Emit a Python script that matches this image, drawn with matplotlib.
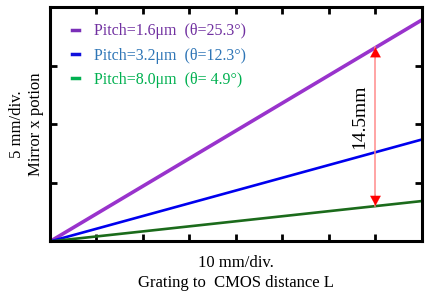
import matplotlib
matplotlib.use("Agg")
import matplotlib.pyplot as plt
from matplotlib.lines import Line2D

plt.rcParams['font.family'] = ['Liberation Serif', 'DejaVu Serif']

# grating to CMOS distance L (mm) and mirror x position (mm)
L = [0, 80]
pos_16 = [0, 18.9]
pos_32 = [0, 8.7]
pos_80 = [0, 3.45]
labels = ['Pitch=1.6\u03bcm  (\u03b8=25.3\u00b0)',
          'Pitch=3.2\u03bcm  (\u03b8=12.3\u00b0)',
          'Pitch=8.0\u03bcm  (\u03b8= 4.9\u00b0)']
arrow_x = 70
arrow_top = 16.55
arrow_bottom = 3.05
arrow_text = '14.5mm'

fig = plt.figure(figsize=(4.32, 3.04), dpi=100)
ax = fig.add_axes([0.1157, 0.2056, 0.8611, 0.7714])

ax.plot(L, pos_16, color='#9933CC', lw=2.6, solid_capstyle='butt')
ax.plot(L, pos_32, color='#0000EE', lw=1.9, solid_capstyle='butt')
ax.plot(L, pos_80, color='#1B6B1B', lw=1.9, solid_capstyle='butt')

# double arrow showing the difference
ax.plot([arrow_x, arrow_x], [arrow_top, arrow_bottom], color='#FF8C8C', lw=1.1)
head = dict(arrowstyle='-|>,head_length=0.7,head_width=0.38',
            color='red', lw=0.1, shrinkA=0, shrinkB=0)
ax.annotate('', xy=(arrow_x, arrow_top), xytext=(arrow_x, arrow_top - 1.0),
            arrowprops=head)
ax.annotate('', xy=(arrow_x, arrow_bottom), xytext=(arrow_x, arrow_bottom + 1.0),
            arrowprops=head)
ax.text(arrow_x - 3.4, 10.6, arrow_text, rotation=90, fontsize=14,
        ha='center', va='center')

handles = [Line2D([], [], color='#7A2FB8', lw=2.5),
           Line2D([], [], color='#1010DD', lw=2.5),
           Line2D([], [], color='#00B050', lw=2.5)]
leg = ax.legend(handles, labels, loc='upper left', bbox_to_anchor=(0.06, 0.93),
                frameon=False, fontsize=11.5, handlelength=0.45, handletextpad=0.9,
                labelspacing=0.52, borderpad=0, borderaxespad=0,
                labelcolor=['#7030A0', '#2E75B6', '#00B050'])

ax.set_xlim(0, 80)
ax.set_ylim(0, 20)
ax.set_xticks([10, 20, 30, 40, 50, 60, 70])
ax.set_yticks([5, 10, 15])
ax.tick_params(direction='in', length=5, width=2, top=True, right=True,
               labelbottom=False, labelleft=False)
for s in ax.spines.values():
    s.set_linewidth(2.2)

ax.set_xlabel('10 mm/div.\nGrating to  CMOS distance L', fontsize=12,
              labelpad=10, linespacing=1.3)
ax.set_ylabel('5 mm/div.\nMirror x potion', fontsize=12, labelpad=4,
              linespacing=1.25)

fig.savefig('out.png', dpi=100)
